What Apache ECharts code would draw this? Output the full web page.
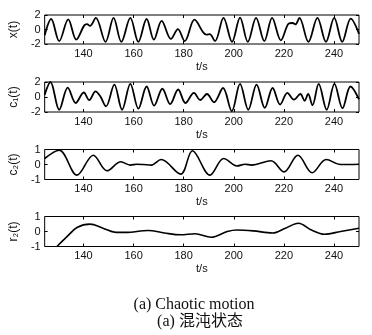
<!DOCTYPE html>
<html><head><meta charset="utf-8">
<script src="https://cdn.jsdelivr.net/npm/echarts@6/dist/echarts.min.js"></script>
<style>html,body{margin:0;padding:0;background:#fff}#c{width:372px;height:335px}</style>
</head><body><div id="c"></div>
<script>
// tick labels
const xTicks = [140, 160, 180, 200, 220, 240];
const yNames = ['x(t)', 'c\u2081(t)', 'c\u2082(t)', 'r\u2082(t)'];
const captions = ['(a) Chaotic motion', '(a) \u6df7\u6c8c\u72b6\u6001'];

// x(t)
const tX = [124.5,127.1,130.3,133.9,137.1,140.3,141.4,142.6,144.9,148.8,152.0,155.1,158.7,161.9,165.2,168.1,171.2,174.9,177.7,180.4,184.3,187.8,189.1,190.4,192.5,195.9,199.3,202.5,205.6,208.9,212.2,215.3,218.8,221.9,223.5,224.6,226.2,229.8,233.4,236.8,240.1,243.3,246.7,250];
const vX = [-0.8,1.45,-1.6,1.4,-1.4,0.57,0.75,0.5,1.6,-1.7,1.6,-1.7,1.6,-1.7,1.45,-1.4,1.2,-1.3,0.05,-1.6,1.35,-0.4,-0.7,-0.65,-1.6,1.6,-1.7,1.65,-1.7,1.6,-1.6,1.6,-1.5,0.8,0.9,0.7,1.6,-1.7,1.6,-1.7,1.6,-1.7,1.5,-0.6];

// c1(t)
const tC1 = [124.5,126.8,130.3,133.7,136.9,140.1,142.3,144.8,146.7,149.0,152.3,155.4,158.7,161.9,165.2,168.2,171.5,174.6,177.8,180.7,184.1,186.6,189.3,192.1,195.7,199.2,202.5,205.8,209.1,212.4,215.5,218.5,221.4,224.0,226.6,228.3,229.7,231.4,233.9,237.1,240.2,243.4,246.6,250];
const vC1 = [0.3,2.0,-1.7,1.25,-0.8,0.6,-0.4,0.75,0.1,-1.25,1.65,-1.7,1.75,-1.55,1.4,-1.15,1.1,-0.95,1.0,-0.8,0.55,-0.4,0.4,-0.7,1.2,-1.9,1.75,-1.7,1.65,-1.45,1.2,-1.0,0.55,-0.35,0.4,-0.5,0.4,-1.1,1.75,-1.7,1.75,-1.5,1.4,-0.3];

// c2(t)
const tC2 = [124.5,130.3,137.4,143.9,149.4,154.9,158.7,161.3,163.9,167.1,171.0,178.8,183.5,190.5,196.0,201.3,204.5,207.1,214.9,220.0,225.6,231.3,236.9,242.7,250];
const vC2 = [0.4,0.95,-0.71,0.62,-0.42,0.18,-0.04,0.02,0.0,-0.04,0.33,-0.64,0.92,-0.71,0.4,-0.1,0.02,-0.04,0.25,-0.49,0.62,-0.55,0.33,0.0,0.02];

// r2(t)
const tR2 = [129.4,133.5,137.4,142.6,147.8,152.3,156.8,165.8,172.3,178.8,184.5,191.0,197.4,201.3,207.8,215.5,220.6,225.8,231.0,236.2,242.6,250];
const vR2 = [-1.0,-0.33,0.27,0.49,0.22,-0.04,-0.06,0.07,-0.1,-0.22,-0.15,-0.38,0.0,0.1,0.04,-0.1,0.22,0.55,0.1,-0.18,0.0,0.22];

const panels = [
  {top: 15,  h: 29, min: -2, max: 2, step: 2, t: tX,  v: vX,  w: 1.8},
  {top: 82,  h: 30, min: -2, max: 2, step: 2, t: tC1, v: vC1, w: 1.8},
  {top: 149.5, h: 30, min: -1, max: 1, step: 1, t: tC2, v: vC2, w: 1.6},
  {top: 216.5, h: 30, min: -1, max: 1, step: 1, t: tR2, v: vR2, w: 1.6}
];

const txt = {fontFamily: 'Liberation Sans, Arial, sans-serif', fontSize: 11, color: '#111'};
const option = {animation: false, grid: [], xAxis: [], yAxis: [], series: [], graphic: []};
panels.forEach((p, i) => {
  option.grid.push({left: 37, top: p.top, width: 322, height: p.h, show: true,
    borderColor: '#000', borderWidth: 1, backgroundColor: 'transparent'});
  option.xAxis.push({type: 'value', gridIndex: i, min: 124.5, max: 250, position: 'bottom',
    axisLine: {show: false, onZero: false}, splitLine: {show: false},
    axisTick: {inside: true, length: 3, customValues: xTicks, lineStyle: {color: '#000'}},
    axisLabel: Object.assign({customValues: xTicks, margin: 4}, txt),
    name: 't/s', nameLocation: 'middle', nameGap: 17, nameTextStyle: Object.assign({}, txt)});
  option.xAxis.push({type: 'value', gridIndex: i, min: 124.5, max: 250, position: 'top',
    axisLine: {show: false, onZero: false}, splitLine: {show: false},
    axisTick: {inside: true, length: 3, customValues: xTicks, lineStyle: {color: '#000'}},
    axisLabel: {show: false}});
  option.yAxis.push({type: 'value', gridIndex: i, min: p.min, max: p.max, interval: p.step,
    position: 'left', axisLine: {show: false, onZero: false}, splitLine: {show: false},
    axisTick: {inside: true, length: 3, lineStyle: {color: '#000'}},
    axisLabel: Object.assign({margin: 4}, txt),
    name: yNames[i], nameLocation: 'middle', nameRotate: 90, nameGap: 18,
    nameTextStyle: Object.assign({}, txt, {fontSize: 12})});
  option.yAxis.push({type: 'value', gridIndex: i, min: p.min, max: p.max, interval: p.step,
    position: 'right', axisLine: {show: false, onZero: false}, splitLine: {show: false},
    axisTick: {inside: true, length: 3, lineStyle: {color: '#000'}},
    axisLabel: {show: false}});
  option.series.push({type: 'line', xAxisIndex: 2 * i, yAxisIndex: 2 * i,
    data: p.t.map((t, k) => [t, p.v[k]]), smooth: 0.35, showSymbol: false, clip: true,
    lineStyle: {color: '#000', width: p.w}});
});
option.graphic = [
  {type: 'text', x: 194, y: 305, style: {text: captions[0], font: '16px "Liberation Serif", "Times New Roman", serif',
    fill: '#111', align: 'center', verticalAlign: 'middle'}},
  {type: 'text', x: 200, y: 322, style: {text: captions[1], font: '16px "Liberation Serif", "Noto Sans CJK SC", serif',
    fill: '#111', align: 'center', verticalAlign: 'middle'}}
];
const chart = echarts.init(document.getElementById('c'), null, {renderer: 'canvas'});
chart.setOption(option);
</script></body></html>
